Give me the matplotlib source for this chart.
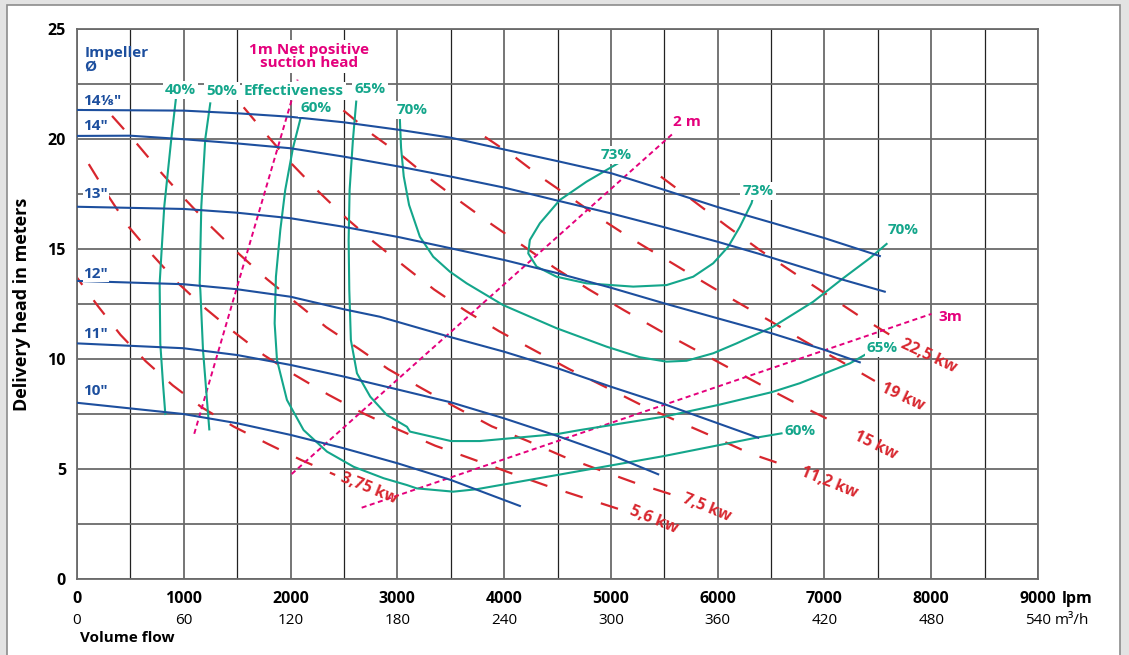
"""
Pump performance chart: delivery head vs. volume flow for several impeller
diameters, with effectiveness, power and NPSH lines.
"""

import matplotlib
matplotlib.use("Agg")
import matplotlib.pyplot as plt
from matplotlib.patches import Rectangle
from matplotlib.ticker import MultipleLocator

# ─── Colours ──────────────────────────────────────────────────────────────────
BLUE    = "#1d4f9e"
TEAL    = "#14a68b"
RED     = "#d8262e"
MAGENTA = "#e4007c"
GRID    = "#6a6a6a"

plt.rcParams["font.family"] = ["Open Sans", "DejaVu Sans"]

# ─── Impeller curves (flow in lpm, head in m) ─────────────────────────────────
Q_1418 = [0, 999, 1498, 1997, 2497, 3027, 3500, 4023, 4522, 5006, 5505, 6004, 6504, 7004, 7519]
H_1418 = [21.32, 21.29, 21.17, 21.01, 20.76, 20.41, 20.06, 19.5, 18.97, 18.44, 17.68, 16.9, 16.2, 15.49, 14.68]
Q_14 = [0, 500, 999, 1498, 1997, 2497, 3024, 3502, 4001, 4500, 5000, 5499, 5999, 6395, 7175, 7565]
H_14 = [20.14, 20.15, 19.99, 19.8, 19.58, 19.2, 18.74, 18.29, 17.79, 17.2, 16.62, 15.99, 15.33, 14.77, 13.6, 13.06]
Q_13 = [0, 999, 1498, 1997, 2497, 3024, 3502, 4001, 4500, 5000, 5499, 5999, 6504, 7004, 7331]
H_13 = [16.92, 16.82, 16.65, 16.4, 16.01, 15.53, 15.03, 14.5, 13.9, 13.24, 12.53, 11.85, 11.17, 10.41, 9.85]
Q_12 = [0, 995, 1500, 2000, 2500, 2837, 3502, 4001, 4500, 5000, 5499, 6380]
H_12 = [13.55, 13.4, 13.17, 12.83, 12.26, 11.92, 10.99, 10.33, 9.58, 8.74, 7.95, 6.42]
Q_11 = [0, 995, 1500, 2000, 2500, 3024, 3502, 4001, 4500, 5000, 5443]
H_11 = [10.71, 10.49, 10.18, 9.73, 9.2, 8.59, 8.03, 7.3, 6.5, 5.64, 4.76]
Q_10 = [0, 995, 1500, 2000, 2500, 3002, 3502, 4148]
H_10 = [8.01, 7.5, 7.08, 6.55, 5.94, 5.26, 4.5, 3.32]

# ─── Effectiveness curves ─────────────────────────────────────────────────────
Q_EFF40 = [929, 883, 817, 774, 780, 805, 827]
H_EFF40 = [21.95, 20.0, 16.92, 13.44, 10.71, 8.9, 7.5]
Q_EFF50 = [1248, 1201, 1164, 1149, 1155, 1180, 1217, 1239]
H_EFF50 = [21.62, 19.99, 16.92, 13.44, 13.14, 10.41, 8.14, 6.8]
Q_EFF60 = [2097, 2022, 1950, 1904, 1863, 1851, 1873, 1966, 2122, 2341, 2591, 2872,
           3090, 3181, 3524, 3742, 4500, 5499, 6380, 6598]
H_EFF60 = [21.01, 19.58, 17.68, 15.86, 13.74, 11.62, 9.95, 8.14, 6.77, 5.79, 5.1, 4.58,
           4.27, 4.12, 3.97, 4.08, 4.73, 5.59, 6.44, 6.62]
Q_EFF65 = [2615, 2584, 2553, 2544, 2550, 2565, 2622, 2746, 2903, 3090, 3118, 3502,
           3773, 4500, 4710, 5499, 6004, 6504, 6770, 7238, 7390]
H_EFF65 = [21.7, 19.95, 17.68, 15.41, 13.14, 10.86, 9.35, 8.29, 7.45, 6.92, 6.7, 6.27,
           6.27, 6.59, 6.77, 7.38, 7.91, 8.49, 8.9, 9.8, 10.22]
Q_EFF70 = [3024, 3035, 3060, 3110, 3211, 3336, 3492, 3649, 3991, 4491, 4960, 5271, 5521,
           5709, 5958, 6177, 6520, 6894, 7175, 7425, 7582]
H_EFF70 = [20.86, 19.6, 18.3, 17.0, 15.56, 14.65, 13.97, 13.44, 12.45, 11.4, 10.56, 10.08, 9.88,
           9.92, 10.26, 10.71, 11.47, 12.6, 13.67, 14.58, 15.23]
Q_EFF73 = [5068, 4772, 4522, 4335, 4241, 4226, 4304, 4491, 4772, 5209, 5521, 5771,
           5958, 6098, 6208, 6317, 6329]
H_EFF73 = [18.9, 18.06, 17.23, 16.17, 15.41, 14.8, 14.2, 13.74, 13.44, 13.29, 13.36, 13.74,
           14.35, 15.1, 16.01, 17.08, 17.3]

# ─── Power lines ──────────────────────────────────────────────────────────────
Q_P375 = [-50, 195, 407, 643, 897, 1166, 1467, 1784, 2099, 2418]
H_P375 = [14.03, 12.41, 11.1, 9.9, 8.8, 7.81, 6.93, 6.15, 5.41, 4.73]
Q_P56 = [110, 297, 484, 710, 946, 1202, 1461, 1749, 2041, 2353, 2681, 3009, 3354, 3703,
         4054, 4398, 4747, 5100]
H_P56 = [18.86, 17.38, 16.01, 14.71, 13.45, 12.3, 11.26, 10.18, 9.27, 8.38, 7.53, 6.79,
         6.06, 5.45, 4.83, 4.24, 3.69, 3.14]
Q_P75 = [328, 560, 785, 1022, 1267, 1521, 1779, 2053, 2333, 2637, 2915, 3235, 3550, 3884,
         4218, 4558, 4897, 5232, 5583]
H_P75 = [21.05, 19.79, 18.49, 17.21, 15.96, 14.76, 13.63, 12.55, 11.45, 10.47, 9.54, 8.65,
         7.8, 6.94, 6.28, 5.56, 4.95, 4.36, 3.82]
Q_P112 = [1561, 1788, 2021, 2266, 2522, 2790, 3078, 3344, 3640, 3954, 4285, 4610, 4944,
          5276, 5607, 5958, 6301, 6645]
H_P112 = [21.44, 20.12, 18.82, 17.59, 16.4, 15.28, 14.17, 13.16, 12.19, 11.26, 10.39, 9.54,
          8.74, 7.93, 7.21, 6.47, 5.71, 5.14]
Q_P15 = [2495, 2774, 3054, 3326, 3609, 3890, 4179, 4471, 4791, 5118, 5447, 5783, 6125,
         6457, 6805, 7144]
H_P15 = [21.3, 20.18, 19.2, 18.12, 17.09, 16.1, 15.14, 14.15, 13.17, 12.23, 11.32, 10.44,
         9.55, 8.69, 7.81, 7.0]
Q_P19 = [3820, 4090, 4374, 4655, 4939, 5229, 5525, 5849, 6161, 6490, 6816, 7144, 7472]
H_P19 = [20.1, 19.22, 18.17, 17.23, 16.27, 15.36, 14.5, 13.55, 12.65, 11.73, 10.8, 9.92, 9.0]
Q_P225 = [5468, 5775, 6083, 6404, 6725, 7031, 7336, 7643]
H_P225 = [18.29, 17.18, 16.05, 14.92, 13.88, 12.9, 11.92, 11.01]

# ─── NPSH lines ───────────────────────────────────────────────────────────────
Q_NPSH1 = [1098, 2066]
H_NPSH1 = [6.6, 22.7]
Q_NPSH2 = [2010, 5577]
H_NPSH2 = [4.77, 20.23]
Q_NPSH3 = [2666, 8002]
H_NPSH3 = [3.24, 12.05]

# ─── Axis tick labels ─────────────────────────────────────────────────────────
LPM_TICKS = [0, 1000, 2000, 3000, 4000, 5000, 6000, 7000, 8000, 9000]
M3H_LABELS = ["0", "60", "120", "180", "240", "300", "360", "420", "480", "540"]
HEAD_TICKS = [0, 5, 10, 15, 20, 25]


# ─── Figure ───────────────────────────────────────────────────────────────────
fig = plt.figure(figsize=(11.29, 6.55), dpi=100)
fig.patch.set_facecolor("#e3e3e3")
fig.patches.append(Rectangle((7 / 1129, -0.05), 1113 / 1129, (650 / 655) + 0.05,
                             transform=fig.transFigure, facecolor="white",
                             edgecolor="#8c8c8c", lw=1.2, zorder=-1))

ax = fig.add_axes([77 / 1129, 76 / 655, 961 / 1129, 550 / 655])
ax.set_xlim(0, 9000)
ax.set_ylim(0, 25)

# grid: 500 lpm x 2.5 m
ax.xaxis.set_major_locator(MultipleLocator(1000))
ax.xaxis.set_minor_locator(MultipleLocator(500))
ax.yaxis.set_major_locator(MultipleLocator(5))
ax.yaxis.set_minor_locator(MultipleLocator(2.5))
ax.grid(True, which="major", axis="x", color=GRID, lw=1.3, zorder=0)
ax.grid(True, which="minor", axis="x", color="#222222", lw=0.9, zorder=0)
ax.grid(True, which="both", axis="y", color=GRID, lw=1.3, zorder=0)
ax.set_axisbelow(True)
for sp in ax.spines.values():
    sp.set_color(GRID)
    sp.set_linewidth(1.3)

ax.tick_params(which="both", length=0)
ax.set_xticklabels([])
ax.set_yticks(HEAD_TICKS)
ax.set_yticklabels([str(t) for t in HEAD_TICKS], fontsize=11.5, fontweight="bold")
ax.tick_params(axis="y", pad=8)
ax.set_ylabel("Delivery head in meters", fontsize=13, fontweight="bold", labelpad=12)

# x labels: lpm row (bold) and m³/h row
xt = ax.get_xaxis_transform()
for q, lab in zip(LPM_TICKS, M3H_LABELS):
    ax.text(q, -0.037, str(q), transform=xt, ha="center", va="center",
            fontsize=11.5, fontweight="bold")
    ax.text(q, -0.075, lab, transform=xt, ha="center", va="center", fontsize=11)
ax.annotate("lpm", xy=(9000, -0.037), xycoords=xt, xytext=(17, 0),
            textcoords="offset points", ha="left", va="center",
            fontsize=11.5, fontweight="bold")
ax.annotate("m³/h", xy=(9000, -0.075), xycoords=xt, xytext=(12, 0),
            textcoords="offset points", ha="left", va="center", fontsize=11)
ax.text(30, -0.108, "Volume flow", transform=xt, ha="left", va="center",
        fontsize=11, fontweight="bold")

# ─── Power lines (red, long dashes) ───────────────────────────────────────────
power = [(Q_P375, H_P375), (Q_P56, H_P56), (Q_P75, H_P75), (Q_P112, H_P112),
         (Q_P15, H_P15), (Q_P19, H_P19), (Q_P225, H_P225)]
for q, h in power:
    ax.plot(q, h, color=RED, lw=1.6, ls=(0, (8.1, 8.6)), zorder=2,
            dash_capstyle="butt")

power_labels = [("3,75 kw", 2731, 4.09, -22), ("5,6 kw", 5403, 2.68, -22),
                ("7,5 kw", 5896, 3.25, -22), ("11,2 kw", 7041, 4.36, -22),
                ("15 kw", 7476, 6.05, -26), ("19 kw", 7729, 8.25, -25),
                ("22,5 kw", 7977, 10.14, -25)]
for txt, x, y, rot in power_labels:
    ax.text(x, y, txt, color=RED, fontsize=11.5, fontweight="bold", rotation=rot,
            ha="center", va="center", rotation_mode="anchor", zorder=6)

# ─── NPSH lines (magenta, dotted) ─────────────────────────────────────────────
for q, h in [(Q_NPSH1, H_NPSH1), (Q_NPSH2, H_NPSH2), (Q_NPSH3, H_NPSH3)]:
    ax.plot(q, h, color=MAGENTA, lw=1.4, ls=(0, (2.6, 1.8)), zorder=3)

ax.text(2172, 23.75, "1m Net positive\nsuction head", color=MAGENTA, fontsize=11,
        fontweight="bold", ha="center", va="center", linespacing=0.95, zorder=6,
        bbox=dict(facecolor="white", edgecolor="none", pad=2))
ax.text(5716, 20.75, "2 m", color=MAGENTA, fontsize=11, fontweight="bold",
        ha="center", va="center", zorder=6)
ax.text(8183, 11.92, "3m", color=MAGENTA, fontsize=11, fontweight="bold",
        ha="center", va="center", zorder=6)

# ─── Effectiveness curves (teal) ──────────────────────────────────────────────
eff = [(Q_EFF40, H_EFF40), (Q_EFF50, H_EFF50), (Q_EFF60, H_EFF60), (Q_EFF65, H_EFF65),
       (Q_EFF70, H_EFF70), (Q_EFF73, H_EFF73)]
for q, h in eff:
    ax.plot(q, h, color=TEAL, lw=1.5, zorder=4)

eff_labels = [("40%", 969, 22.23), ("50%", 1358, 22.18), ("Effectiveness", 2032, 22.18),
              ("60%", 2238, 21.41), ("65%", 2743, 22.27), ("70%", 3141, 21.32),
              ("73%", 5049, 19.27), ("73%", 6379, 17.64), ("70%", 7734, 15.86),
              ("65%", 7542, 10.52), ("60%", 6774, 6.73)]
for txt, x, y in eff_labels:
    ax.text(x, y, txt, color=TEAL, fontsize=11, fontweight="bold", ha="center",
            va="center", zorder=6,
            bbox=dict(facecolor="white", edgecolor="none", pad=1.5))

# ─── Impeller curves (blue) ───────────────────────────────────────────────────
impellers = [(Q_1418, H_1418), (Q_14, H_14), (Q_13, H_13), (Q_12, H_12),
             (Q_11, H_11), (Q_10, H_10)]
for q, h in impellers:
    ax.plot(q, h, color=BLUE, lw=1.5, zorder=5)

ax.text(70, 23.6, "Impeller\nØ", color=BLUE, fontsize=11, fontweight="bold",
        ha="left", va="center", linespacing=0.95, zorder=6)
imp_labels = [("14⅛″", 21.73), ("14″", 20.6), ("13″", 17.5), ("12″", 13.86),
              ("11″", 11.14), ("10″", 8.55)]
for txt, y in imp_labels:
    ax.text(60, y, txt, color=BLUE, fontsize=11, fontweight="bold", ha="left",
            va="center", zorder=6,
            bbox=dict(facecolor="white", edgecolor="none", pad=0.5))

plt.savefig("out.png", dpi=100)
plt.close()
